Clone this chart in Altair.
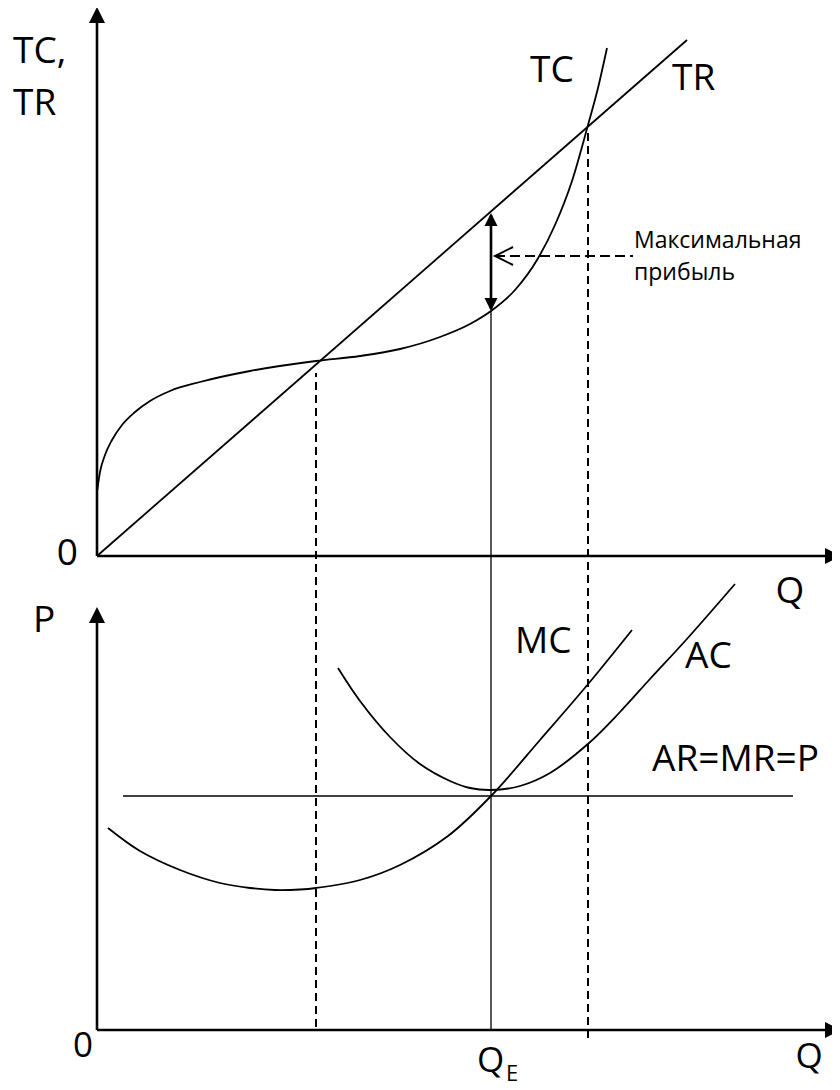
import altair as alt
import pandas as pd

# ---------------- data (Q along the horizontal axis, values up from each panel's origin)
# upper panel: total cost and total revenue
tc_q = [0, 3, 8, 15, 25, 38, 53, 73, 103, 153, 219, 263, 303, 343, 373, 394, 418, 440, 458, 475, 491, 501, 510]
tc_v = [64, 84, 101, 116, 131, 144, 155, 165, 174, 185, 195, 200, 207, 219, 232, 245, 266, 296, 331, 375, 431, 468, 508]
tr_q = [0, 590]
tr_v = [0, 516]
# lower panel: marginal cost, average cost, price line
mc_q = [11, 43, 83, 123, 153, 178, 203, 219, 263, 303, 351, 394, 443, 492, 535]
mc_v = [202, 179, 160, 147, 142, 140, 140.5, 142, 150, 165, 194, 234, 290, 347, 400]
ac_q = [241, 263, 293, 323, 353, 373, 394, 423, 453, 492, 523, 553, 589, 638]
ac_v = [362, 329, 293, 266, 249, 242, 240, 244, 257, 287, 318, 351, 390, 446]
p_q = [26, 696]
p_v = [234, 234]

Q_BREAKEVEN = 219
Q_E = 394
Q_UPPER = 491
TC_AT_QE = 245
TR_AT_QE = 343
TC_AT_BE = 195
TC_AT_UP = 431
PROFIT_ARROW_V = 300
PROFIT_ARROW_END = 536

# layout of the two panels in one frame (frame units = px up from the page bottom)
TOP = 534          # origin of the upper panel
BOT = 60           # origin of the lower panel
W, H = 824, 1074
X_DOM = [-89, -89 + W]
Y_DOM = [8, 8 + H]
TOP_AXIS_LEN = 541
BOT_AXIS_LEN = 415
X_AXIS_LEN = 740
HEAD_X = 736

xs = alt.Scale(domain=X_DOM, nice=False, zero=False)
ys = alt.Scale(domain=Y_DOM, nice=False, zero=False)


def X(f):
    return alt.X(f, type="quantitative", scale=xs, axis=None)


def Y(f):
    return alt.Y(f, type="quantitative", scale=ys, axis=None)


def curve_df(qs, vs, base):
    return pd.DataFrame({"q": qs, "v": [v + base for v in vs]})


tc_layer = alt.Chart(curve_df(tc_q, tc_v, TOP)).mark_line(
    interpolate="monotone", color="black", strokeWidth=1.8
).encode(x=X("q"), y=Y("v"), order="q:Q")
tr_layer = alt.Chart(curve_df(tr_q, tr_v, TOP)).mark_line(
    color="black", strokeWidth=1.8
).encode(x=X("q"), y=Y("v"), order="q:Q")
mc_layer = alt.Chart(curve_df(mc_q, mc_v, BOT)).mark_line(
    interpolate="catmull-rom", color="black", strokeWidth=1.8
).encode(x=X("q"), y=Y("v"), order="q:Q")
ac_layer = alt.Chart(curve_df(ac_q, ac_v, BOT)).mark_line(
    interpolate="catmull-rom", color="black", strokeWidth=1.8
).encode(x=X("q"), y=Y("v"), order="q:Q")
p_layer = alt.Chart(curve_df(p_q, p_v, BOT)).mark_line(
    color="black", strokeWidth=1.6
).encode(x=X("q"), y=Y("v"), order="q:Q")

# axes
axes = pd.DataFrame([
    dict(x=0, x2=0, y=TOP, y2=TOP + TOP_AXIS_LEN),
    dict(x=0, x2=X_AXIS_LEN, y=TOP, y2=TOP),
    dict(x=0, x2=0, y=BOT, y2=BOT + BOT_AXIS_LEN),
    dict(x=0, x2=X_AXIS_LEN, y=BOT, y2=BOT),
])
axis_layer = alt.Chart(axes).mark_rule(color="black", strokeWidth=2.6).encode(
    x=X("x"), x2="x2:Q", y=Y("y"), y2="y2:Q"
)

UP = "M0,-1L1,1L-1,1Z"
RIGHT = "M1,0L-1,-1L-1,1Z"
DOWN = "M0,1L1,-1L-1,-1Z"
LEFT_OPEN = "M1,-1L-1,0L1,1"

up_heads = alt.Chart(pd.DataFrame([
    dict(x=0, y=TOP + TOP_AXIS_LEN),
    dict(x=0, y=BOT + BOT_AXIS_LEN),
])).mark_point(shape=UP, filled=True, size=256, color="black", opacity=1).encode(
    x=X("x"), y=Y("y")
)
right_heads = alt.Chart(pd.DataFrame([
    dict(x=HEAD_X, y=TOP),
    dict(x=HEAD_X, y=BOT),
])).mark_point(shape=RIGHT, filled=True, size=256, color="black", opacity=1).encode(
    x=X("x"), y=Y("y")
)

# vertical guide lines
solid_layer = alt.Chart(pd.DataFrame([dict(x=Q_E, y=BOT, y2=TOP + TC_AT_QE)])).mark_rule(
    color="black", strokeWidth=1.3
).encode(x=X("x"), y=Y("y"), y2="y2:Q")
dashed_layer = alt.Chart(pd.DataFrame([
    dict(x=Q_BREAKEVEN, y=BOT + 3, y2=TOP + TC_AT_BE - 12),
    dict(x=Q_UPPER, y=BOT - 8, y2=TOP + TC_AT_UP - 6),
])).mark_rule(color="black", strokeWidth=2, strokeDash=[8, 5]).encode(
    x=X("x"), y=Y("y"), y2="y2:Q"
)

# profit double arrow
shaft_layer = alt.Chart(pd.DataFrame([
    dict(x=Q_E, y=TOP + TC_AT_QE + 2, y2=TOP + TR_AT_QE - 2)
])).mark_rule(color="black", strokeWidth=2.6).encode(x=X("x"), y=Y("y"), y2="y2:Q")
dh_up = alt.Chart(pd.DataFrame([dict(x=Q_E, y=TOP + TR_AT_QE - 6.5)])).mark_point(
    shape=UP, filled=True, size=169, color="black", opacity=1
).encode(x=X("x"), y=Y("y"))
dh_down = alt.Chart(pd.DataFrame([dict(x=Q_E, y=TOP + TC_AT_QE + 6.5)])).mark_point(
    shape=DOWN, filled=True, size=169, color="black", opacity=1
).encode(x=X("x"), y=Y("y"))

# dashed pointer to the profit arrow
pointer_layer = alt.Chart(pd.DataFrame([
    dict(x=Q_E + 4, x2=PROFIT_ARROW_END, y=TOP + PROFIT_ARROW_V)
])).mark_rule(color="black", strokeWidth=2, strokeDash=[10, 5]).encode(
    x=X("x"), x2="x2:Q", y=Y("y")
)
pointer_head = alt.Chart(pd.DataFrame([dict(x=Q_E + 13, y=TOP + PROFIT_ARROW_V)])).mark_point(
    shape=LEFT_OPEN, filled=False, size=324, color="black", strokeWidth=2, opacity=1
).encode(x=X("x"), y=Y("y"))

# text labels (frame units)
big_labels = pd.DataFrame([
    dict(t="TC,", x=-84, y=1027, a="left"),
    dict(t="TR", x=-84, y=975, a="left"),
    dict(t="0", x=-19, y=525, a="right"),
    dict(t="Q", x=693, y=487, a="center"),
    dict(t="P", x=-64, y=458, a="left"),
    dict(t="TC", x=433, y=1008, a="left"),
    dict(t="TR", x=575, y=1000, a="left"),
    dict(t="MC", x=418, y=437, a="left"),
    dict(t="AC", x=588, y=422, a="left"),
    dict(t="AR=MR=P", x=555, y=319, a="left"),
])
bottom_labels = pd.DataFrame([
    dict(t="0", x=-4, y=33, a="right"),
    dict(t="Q", x=380, y=18, a="left"),
    dict(t="Q", x=712, y=22, a="center"),
])
FONT = "Open Sans"
text_layers = []
for df, fs in [(big_labels, 37), (bottom_labels, 35)]:
    for a in ["left", "right", "center"]:
        sub = df[df.a == a]
        if len(sub) == 0:
            continue
        text_layers.append(
            alt.Chart(sub).mark_text(
                align=a, baseline="alphabetic", font=FONT, fontSize=fs, color="black"
            ).encode(x=X("x"), y=Y("y"), text="t:N")
        )

small_layer = alt.Chart(pd.DataFrame([
    dict(t="Максимальная", x=537, y=842),
    dict(t="прибыль", x=537, y=810),
])).mark_text(
    align="left", baseline="alphabetic", font=FONT, fontSize=23, color="black"
).encode(x=X("x"), y=Y("y"), text="t:N")

sub_layer = alt.Chart(pd.DataFrame([dict(t="E", x=409, y=9)])).mark_text(
    align="left", baseline="alphabetic", font=FONT, fontSize=22, color="black"
).encode(x=X("x"), y=Y("y"), text="t:N")

chart = alt.layer(
    dashed_layer, solid_layer, tc_layer, tr_layer, mc_layer, ac_layer, p_layer,
    axis_layer, up_heads, right_heads,
    shaft_layer, dh_up, dh_down, pointer_layer, pointer_head,
    *text_layers, small_layer, sub_layer
).properties(
    width=W, height=H, padding=0,
    autosize=alt.AutoSizeParams(type="none"),
    background="white",
).configure_view(stroke=None)

chart.save("out.html", embed_options={"renderer": "svg", "actions": False})
